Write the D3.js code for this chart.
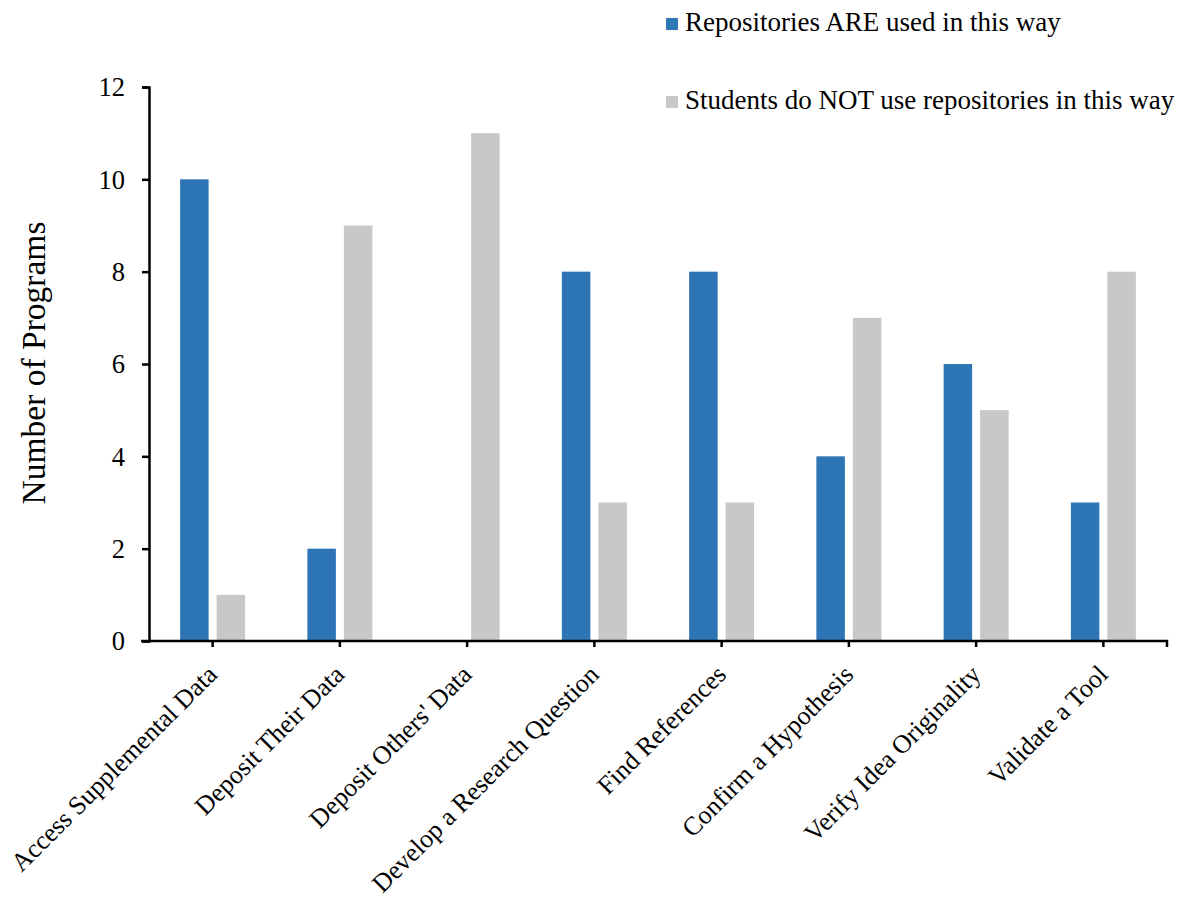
<!DOCTYPE html>
<html>
<head>
<meta charset="utf-8">
<script src="https://cdn.jsdelivr.net/npm/d3@7"></script>
<style>
  html, body { margin: 0; padding: 0; background: #ffffff; }
  svg { display: block; }
  text { font-family: "Liberation Serif", "Times New Roman", serif; fill: #000; }
</style>
</head>
<body>
<svg id="chart" width="1178" height="898"></svg>
<script>
const categories = [
  "Access Supplemental Data",
  "Deposit Their Data",
  "Deposit Others' Data",
  "Develop a Research Question",
  "Find References",
  "Confirm a Hypothesis",
  "Verify Idea Originality",
  "Validate a Tool"
];
const seriesNames = [
  "Repositories ARE used in this way",
  "Students do NOT use repositories in this way"
];
const usedValues = [10, 2, 0, 8, 8, 4, 6, 3];
const notUsedValues = [1, 9, 11, 3, 3, 7, 5, 8];
const yTicks = [0, 2, 4, 6, 8, 10, 12];
const colors = ["#2e75b6", "#c8c8c8"];

const svg = d3.select("#chart");
const x = d3.scaleBand().domain(categories).range([149, 1167]).padding(0);
const y = d3.scaleLinear().domain([0, 12]).range([641, 87]);

const series = [usedValues, notUsedValues];
const barW = 28.5, gap = 8;

// bars
series.forEach((vals, si) => {
  svg.append("g").selectAll("rect")
    .data(categories.map((c, i) => ({ c, v: vals[i] })))
    .join("rect")
    .attr("x", d => x(d.c) + x.bandwidth() / 2 + (si === 0 ? -gap / 2 - barW : gap / 2))
    .attr("y", d => y(d.v))
    .attr("width", barW)
    .attr("height", d => y(0) - y(d.v))
    .attr("fill", colors[si]);
});

// y axis
const yAxis = svg.append("g")
  .attr("transform", "translate(149,0)")
  .call(d3.axisLeft(y).tickValues(yTicks).tickSize(7).tickSizeOuter(7).tickPadding(17));
yAxis.select(".domain").attr("stroke", "#000").attr("stroke-width", 2.5);
yAxis.selectAll(".tick line").attr("stroke", "#000").attr("stroke-width", 2.5);
yAxis.selectAll(".tick text").attr("font-size", 26.5).attr("font-family", "Liberation Serif").attr("dy", "0.33em");

// x axis
const xAxis = svg.append("g")
  .attr("transform", "translate(0,641)")
  .call(d3.axisBottom(x).tickSize(6).tickSizeOuter(6));
xAxis.select(".domain").attr("stroke", "#000").attr("stroke-width", 2.5)
  .attr("d", "M141,0H1167V6");
xAxis.selectAll(".tick line").attr("stroke", "#000").attr("stroke-width", 2.5);
xAxis.selectAll(".tick text")
  .attr("font-size", 26)
  .attr("font-family", "Liberation Serif")
  .attr("text-anchor", "end")
  .attr("x", 0).attr("y", 0).attr("dy", 0)
  .attr("transform", "translate(6,35) rotate(-45)");

// y title
svg.append("text")
  .attr("transform", "translate(45,363) rotate(-90)")
  .attr("text-anchor", "middle")
  .attr("font-size", 33.5)
  .text("Number of Programs");

// legend
const legendRows = [31, 109];
seriesNames.forEach((name, i) => {
  svg.append("rect")
    .attr("x", 666).attr("y", legendRows[i] - 13)
    .attr("width", 12).attr("height", 12)
    .attr("fill", colors[i]);
  svg.append("text")
    .attr("x", 685).attr("y", legendRows[i])
    .attr("font-size", 27)
    .text(name);
});
</script>
</body>
</html>
